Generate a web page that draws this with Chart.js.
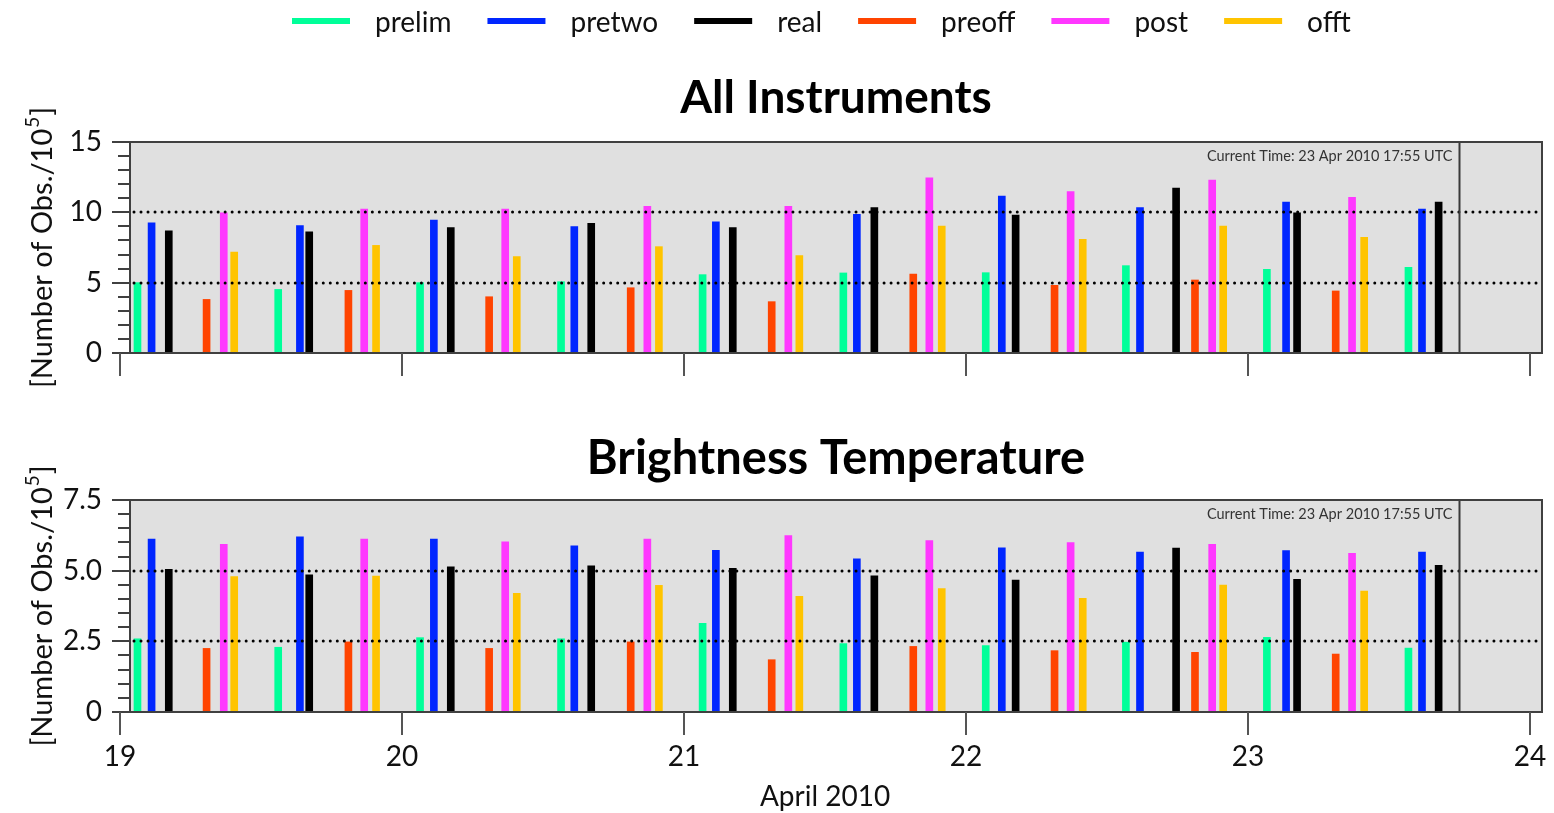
<!DOCTYPE html>
<html>
<head>
<meta charset="utf-8">
<script src="https://cdn.jsdelivr.net/npm/chart.js@4.4.1/dist/chart.umd.min.js"></script>
<style>
  html, body { margin: 0; padding: 0; background: #ffffff; }
  #wrap { position: relative; width: 1554px; height: 813px; overflow: hidden; background: #fff; }
  canvas { position: absolute; left: 0; }
  #c1 { top: 0; }
  #c2 { top: 400px; }
</style>
</head>
<body>
<div id="wrap">
  <canvas id="c1" width="1554" height="400"></canvas>
  <canvas id="c2" width="1554" height="413"></canvas>
</div>
<script>
// ---------------- DATA ----------------
const seriesNames  = ['prelim', 'pretwo', 'real', 'preoff', 'post', 'offt'];
const seriesColors = ['#00ff99', '#0026ff', '#000000', '#ff4400', '#ff38ff', '#ffc400'];

// observation times (day of April 2010, decimal)
const prelimTimes = [19.062, 19.561, 20.064, 20.564, 21.066, 21.565, 22.070, 22.567, 23.067, 23.569];
const pretwoTimes = [19.112, 19.638, 20.113, 20.611, 21.113, 21.613, 22.127, 22.617, 23.135, 23.617];
const realTimes   = [19.173, 19.671, 20.173, 20.671, 21.173, 21.675, 22.176, 22.745, 23.174, 23.676];
const preoffTimes = [19.307, 19.810, 20.309, 20.811, 21.311, 21.813, 22.314, 22.812, 23.311];
const postTimes   = [19.368, 19.866, 20.366, 20.870, 21.370, 21.870, 22.371, 22.873, 23.369];
const offtTimes   = [19.405, 19.908, 20.407, 20.911, 21.409, 21.914, 22.414, 22.912, 23.412];

// All Instruments [Number of Obs./10^5]
const prelimAll = [5.00, 4.52, 5.00, 5.07, 5.57, 5.69, 5.71, 6.21, 5.95, 6.09];
const pretwoAll = [9.26, 9.05, 9.45, 8.98, 9.33, 9.86, 11.16, 10.33, 10.73, 10.23];
const realAll   = [8.69, 8.62, 8.91, 9.22, 8.91, 10.33, 9.81, 11.73, 9.97, 10.73];
const preoffAll = [3.81, 4.45, 4.00, 4.64, 3.65, 5.61, 4.81, 5.19, 4.41];
const postAll   = [9.97, 10.23, 10.23, 10.43, 10.43, 12.46, 11.47, 12.30, 11.07];
const offtAll   = [7.18, 7.65, 6.85, 7.56, 6.92, 9.03, 8.08, 9.03, 8.22];

// Brightness Temperature [Number of Obs./10^5]
const prelimBT = [2.59, 2.29, 2.63, 2.59, 3.14, 2.42, 2.35, 2.47, 2.64, 2.26];
const pretwoBT = [6.12, 6.20, 6.12, 5.88, 5.72, 5.42, 5.81, 5.66, 5.71, 5.66];
const realBT   = [5.05, 4.85, 5.14, 5.17, 5.08, 4.82, 4.67, 5.80, 4.69, 5.19];
const preoffBT = [2.25, 2.48, 2.25, 2.48, 1.85, 2.32, 2.17, 2.11, 2.05];
const postBT   = [5.93, 6.12, 6.02, 6.12, 6.24, 6.06, 5.99, 5.93, 5.61];
const offtBT   = [4.79, 4.81, 4.20, 4.48, 4.09, 4.37, 4.02, 4.49, 4.28];

const xTickValues = [19, 20, 21, 22, 23, 24];
const xTickLabels = ['19', '20', '21', '22', '23', '24'];
const xAxisTitle = 'April 2010';
const currentTime = 23 + (17 + 55 / 60) / 24;
const currentTimeLabel = 'Current Time: 23 Apr 2010 17:55 UTC';
const yAxisTitle = ['[Number of Obs./10', '5', ']'];

// ---------------- HELPERS ----------------
const FONT = 'Lato, "DejaVu Sans", sans-serif';
const allTimes = [prelimTimes, pretwoTimes, realTimes, preoffTimes, postTimes, offtTimes];

function makeDatasets(values) {
  return seriesNames.map((name, i) => ({
    label: name,
    data: allTimes[i].map((t, j) => ({ x: t, y: values[i][j] })),
    backgroundColor: seriesColors[i],
    borderWidth: 0,
    grouped: false,
    barPercentage: 1,
    categoryPercentage: 1,
    maxBarThickness: 7,
    barThickness: 7
  }));
}

function line(ctx, x1, y1, x2, y2) {
  ctx.beginPath(); ctx.moveTo(x1, y1); ctx.lineTo(x2, y2); ctx.stroke();
}

const panelPlugin = {
  id: 'panel',
  beforeDraw(chart) {
    const { ctx, chartArea: a } = chart;
    ctx.save();
    ctx.fillStyle = '#e0e0e0';
    ctx.fillRect(a.left, a.top, a.right - a.left, a.bottom - a.top);
    ctx.restore();
  },
  afterDraw(chart, args, o) {
    const { ctx, chartArea: a, scales: { x, y } } = chart;
    ctx.save();

    // dotted reference lines
    ctx.strokeStyle = '#000';
    ctx.lineWidth = 3;
    ctx.lineCap = 'round';
    ctx.setLineDash([0.01, 7]);
    o.refLines.forEach(v => {
      const py = Math.round(y.getPixelForValue(v));
      line(ctx, a.left + 4, py, a.right, py);
    });
    ctx.setLineDash([]);
    ctx.lineCap = 'butt';

    // current-time marker
    const cx = Math.round(x.getPixelForValue(currentTime)) + 0.5;
    ctx.strokeStyle = '#3a3a3a';
    ctx.lineWidth = 2;
    line(ctx, cx, a.top, cx, a.bottom);
    ctx.fillStyle = '#333';
    ctx.font = '14.5px ' + FONT;
    ctx.textAlign = 'right';
    ctx.textBaseline = 'middle';
    ctx.fillText(currentTimeLabel, cx - 7, a.top + 14);

    // frame
    ctx.strokeStyle = '#404040';
    ctx.lineWidth = 2;
    ctx.strokeRect(a.left, a.top, a.right - a.left, a.bottom - a.top);

    // y tick marks (major + minor)
    ctx.strokeStyle = '#404040';
    ctx.lineWidth = 2;
    const nMinor = Math.round((y.max - y.min) / o.minorStep);
    for (let k = 0; k <= nMinor; k++) {
      const v = y.min + k * o.minorStep;
      const major = Math.abs(v / o.majorStep - Math.round(v / o.majorStep)) < 1e-6;
      const py = Math.round(y.getPixelForValue(v));
      line(ctx, a.left - (major ? 18 : 12), py, a.left, py);
    }

    // x tick marks hanging below the frame
    ctx.strokeStyle = '#555';
    xTickValues.forEach((v, i) => {
      const px = Math.round(x.getPixelForValue(v));
      line(ctx, px, a.bottom, px, a.bottom + 23);
      if (o.xLabels) {
        ctx.fillStyle = '#111';
        ctx.font = '28px ' + FONT;
        ctx.textAlign = 'center';
        ctx.textBaseline = 'middle';
        ctx.fillText(xTickLabels[i], px, a.bottom + 45);
      }
    });
    if (o.xLabels) {
      const mid = (x.getPixelForValue(xTickValues[0]) + x.getPixelForValue(xTickValues[xTickValues.length - 1])) / 2;
      ctx.fillStyle = '#111';
      ctx.font = '28px ' + FONT;
      ctx.textAlign = 'center';
      ctx.textBaseline = 'middle';
      ctx.fillText(xAxisTitle, mid, a.bottom + 85);
    }

    // panel title
    ctx.fillStyle = '#000';
    ctx.font = 'bold ' + o.titleSize + 'px ' + FONT;
    ctx.textAlign = 'center';
    ctx.textBaseline = 'alphabetic';
    ctx.fillText(o.title, (a.left + a.right) / 2, a.top - o.titleGap);

    // y-axis title with superscript
    ctx.save();
    ctx.translate(52, (a.top + a.bottom) / 2);
    ctx.rotate(-Math.PI / 2);
    ctx.fillStyle = '#111';
    ctx.textAlign = 'left';
    ctx.textBaseline = 'alphabetic';
    const big = '29px ' + FONT, small = '19px ' + FONT;
    ctx.font = big; const w1 = ctx.measureText(yAxisTitle[0]).width; const w3 = ctx.measureText(yAxisTitle[2]).width;
    ctx.font = small; const w2 = ctx.measureText(yAxisTitle[1]).width;
    let sx = -(w1 + w2 + w3 + 2) / 2;
    ctx.font = big; ctx.fillText(yAxisTitle[0], sx, 0); sx += w1 + 1;
    ctx.font = small; ctx.fillText(yAxisTitle[1], sx, -13); sx += w2 + 1;
    ctx.font = big; ctx.fillText(yAxisTitle[2], sx, 0);
    ctx.restore();

    // legend
    if (o.legend) {
      let lx = 292;
      ctx.font = '28px ' + FONT;
      ctx.textAlign = 'left';
      ctx.textBaseline = 'alphabetic';
      chart.data.datasets.forEach(ds => {
        ctx.strokeStyle = ds.backgroundColor;
        ctx.lineWidth = 6;
        line(ctx, lx, 21, lx + 58, 21);
        ctx.fillStyle = '#111';
        ctx.fillText(ds.label, lx + 83, 32);
        lx += 83 + ctx.measureText(ds.label).width + 36;
      });
    }
    ctx.restore();
  }
};

function makeChart(id, values, yMax, yStep, minorStep, refLines, fmt, extra) {
  return new Chart(document.getElementById(id), {
    type: 'bar',
    data: { datasets: makeDatasets(values) },
    plugins: [panelPlugin],
    options: {
      responsive: false,
      animation: false,
      events: [],
      layout: { padding: extra.padding },
      scales: {
        x: {
          type: 'linear',
          min: 19 + 10 / 282,
          max: 19 + 1422 / 282,
          offset: false,
          display: false
        },
        y: {
          type: 'linear',
          min: 0,
          max: yMax,
          grid: { display: false, drawTicks: false },
          border: { display: false },
          ticks: {
            stepSize: yStep,
            padding: 28,
            color: '#111',
            font: { family: FONT, size: 28 },
            callback: fmt
          },
          afterFit(scale) { scale.width = 130; }
        }
      },
      plugins: {
        legend: { display: false },
        tooltip: { enabled: false },
        panel: {
          refLines: refLines,
          majorStep: yStep,
          minorStep: minorStep,
          title: extra.title,
          titleSize: extra.titleSize,
          titleGap: extra.titleGap,
          xLabels: extra.xLabels,
          legend: extra.legend
        }
      }
    }
  });
}

makeChart('c1',
  [prelimAll, pretwoAll, realAll, preoffAll, postAll, offtAll],
  15, 5, 1, [5, 10],
  v => String(v),
  { padding: { left: 0, right: 12, top: 142, bottom: 47 }, title: 'All Instruments', titleSize: 46, titleGap: 29, xLabels: false, legend: true });

makeChart('c2',
  [prelimBT, pretwoBT, realBT, preoffBT, postBT, offtBT],
  7.5, 2.5, 0.5, [2.5, 5],
  v => (v === 0 ? '0' : v.toFixed(1)),
  { padding: { left: 0, right: 12, top: 100, bottom: 101 }, title: 'Brightness Temperature', titleSize: 47, titleGap: 26, xLabels: true, legend: false });
</script>
</body>
</html>
